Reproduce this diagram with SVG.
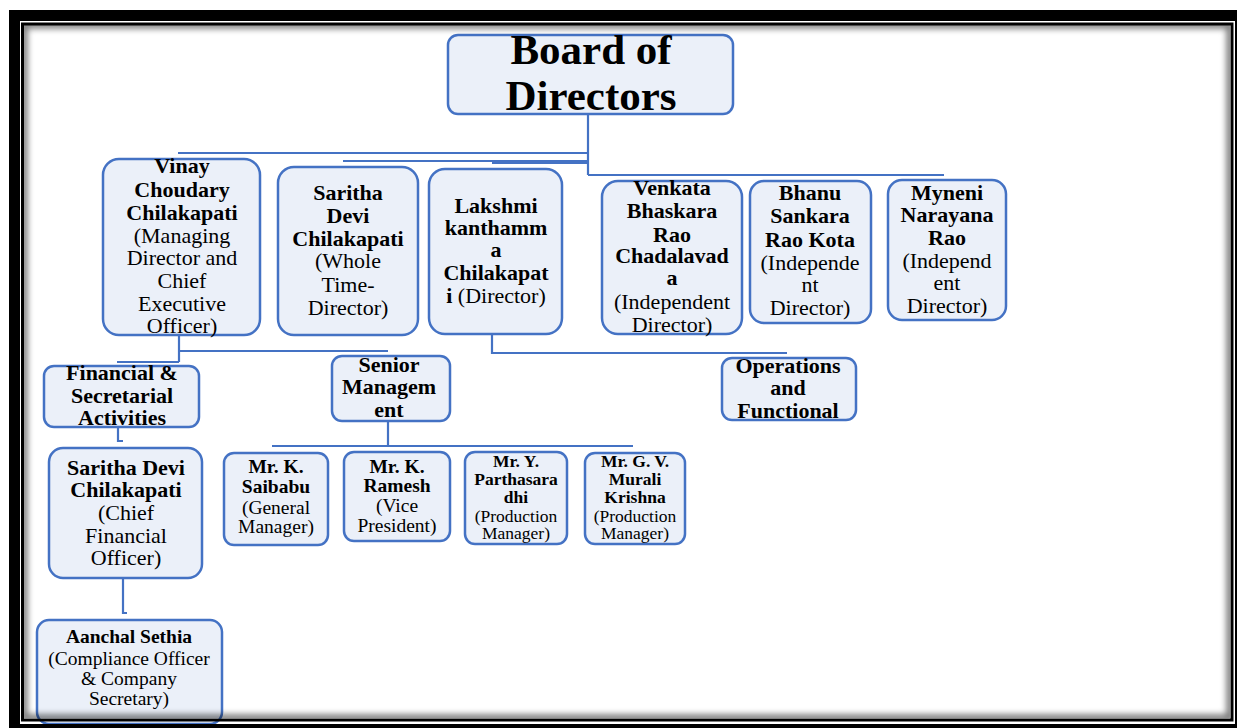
<svg xmlns="http://www.w3.org/2000/svg" width="1237" height="728" viewBox="0 0 1237 728">
<style>
.box{fill:#EBF0F9;stroke:#4472C4;stroke-width:2.5}
.t{font-family:"Liberation Serif","Times New Roman",serif;fill:#000;text-anchor:middle}
.b{font-weight:bold}
.f22{font-size:22px}
.f19{font-size:19.5px}
.f17{font-size:17.5px}
.conn{fill:none;stroke:#4472C4;stroke-width:2.2}
</style>
<defs>
<clipPath id="inner"><rect x="24" y="25" width="1206" height="693"/></clipPath>
<filter id="blur" x="-5%" y="-5%" width="110%" height="110%"><feGaussianBlur stdDeviation="3"/></filter>
</defs>
<rect x="0" y="0" width="1237" height="728" fill="#fff"/>

<g id="connectors">
<path class="conn" d="M588,114 V175 M178,153 H588 M343,161 H588 M492,163 H588 M588,175 H944"/>
<path class="conn" d="M179,335 V362 M179,351 H388 M117,362 H179"/>
<path class="conn" d="M492,334 V353 H787"/>
<path class="conn" d="M388,421 V446 M272,446 H633"/>
<path class="conn" d="M118,427 V441 H123"/>
<path class="conn" d="M123,578 V613 H127"/>
</g>

<g id="board">
<rect class="box" x="448" y="35" width="285" height="79" rx="10"/>
<text class="t b" font-size="43"><tspan x="591" y="64">Board of</tspan><tspan x="591" y="110">Directors</tspan></text>
</g>

<g id="vinay">
<rect class="box" x="103" y="159" width="157" height="176" rx="16"/>
<text class="t f22"><tspan class="b" x="182" y="173">Vinay</tspan><tspan class="b" x="182" y="197">Choudary</tspan><tspan class="b" x="182" y="220">Chilakapati</tspan><tspan x="182" y="243">(Managing</tspan><tspan x="182" y="265">Director and</tspan><tspan x="182" y="288">Chief</tspan><tspan x="182" y="311">Executive</tspan><tspan x="182" y="333">Officer)</tspan></text>
</g>

<g id="saritha-wtd">
<rect class="box" x="278" y="167" width="140" height="168" rx="16"/>
<text class="t f22"><tspan class="b" x="348" y="200">Saritha</tspan><tspan class="b" x="348" y="223">Devi</tspan><tspan class="b" x="348" y="246">Chilakapati</tspan><tspan x="348" y="268">(Whole</tspan><tspan x="348" y="292">Time-</tspan><tspan x="348" y="315">Director)</tspan></text>
</g>

<g id="lakshmi">
<rect class="box" x="429" y="169" width="133" height="165" rx="16"/>
<text class="t f22"><tspan class="b" x="496" y="213">Lakshmi</tspan><tspan class="b" x="496" y="235">kanthamm</tspan><tspan class="b" x="496" y="257">a</tspan><tspan class="b" x="496" y="280">Chilakapat</tspan><tspan x="496" y="303"><tspan class="b">i</tspan> (Director)</tspan></text>
</g>

<g id="venkata">
<rect class="box" x="602" y="181" width="140" height="153" rx="16"/>
<text class="t f22"><tspan class="b" x="672" y="195">Venkata</tspan><tspan class="b" x="672" y="218">Bhaskara</tspan><tspan class="b" x="672" y="242">Rao</tspan><tspan class="b" x="672" y="263">Chadalavad</tspan><tspan class="b" x="672" y="285">a</tspan><tspan x="672" y="309">(Independent</tspan><tspan x="672" y="332">Director)</tspan></text>
</g>

<g id="bhanu">
<rect class="box" x="750" y="181" width="121" height="142" rx="14"/>
<text class="t f22"><tspan class="b" x="810" y="200">Bhanu</tspan><tspan class="b" x="810" y="223">Sankara</tspan><tspan class="b" x="810" y="247">Rao Kota</tspan><tspan x="810" y="270">(Independe</tspan><tspan x="810" y="292">nt</tspan><tspan x="810" y="315">Director)</tspan></text>
</g>

<g id="myneni">
<rect class="box" x="888" y="180" width="118" height="140" rx="14"/>
<text class="t f22"><tspan class="b" x="947" y="200">Myneni</tspan><tspan class="b" x="947" y="222">Narayana</tspan><tspan class="b" x="947" y="245">Rao</tspan><tspan x="947" y="268">(Independ</tspan><tspan x="947" y="290">ent</tspan><tspan x="947" y="313">Director)</tspan></text>
</g>

<g id="financial">
<rect class="box" x="44" y="366" width="155" height="61" rx="10"/>
<text class="t b f22"><tspan x="122" y="380">Financial &amp;</tspan><tspan x="122" y="403">Secretarial</tspan><tspan x="122" y="425">Activities</tspan></text>
</g>

<g id="senior">
<rect class="box" x="332" y="356" width="118" height="65" rx="10"/>
<text class="t b f22"><tspan x="389" y="372">Senior</tspan><tspan x="389" y="394">Managem</tspan><tspan x="389" y="417">ent</tspan></text>
</g>

<g id="operations">
<rect class="box" x="722" y="358" width="134" height="62" rx="10"/>
<text class="t b f22"><tspan x="788" y="373">Operations</tspan><tspan x="788" y="395">and</tspan><tspan x="788" y="418">Functional</tspan></text>
</g>

<g id="saibabu">
<rect class="box" x="224" y="453" width="104" height="92" rx="10"/>
<text class="t f19"><tspan class="b" x="276" y="473">Mr. K.</tspan><tspan class="b" x="276" y="493">Saibabu</tspan><tspan x="276" y="514">(General</tspan><tspan x="276" y="533">Manager)</tspan></text>
</g>

<g id="ramesh">
<rect class="box" x="344" y="452" width="106" height="89" rx="10"/>
<text class="t f19"><tspan class="b" x="397" y="473">Mr. K.</tspan><tspan class="b" x="397" y="492">Ramesh</tspan><tspan x="397" y="512">(Vice</tspan><tspan x="397" y="532">President)</tspan></text>
</g>

<g id="parthasaradhi">
<rect class="box" x="465" y="452" width="102" height="92" rx="10"/>
<text class="t f17"><tspan class="b" x="516" y="467">Mr. Y.</tspan><tspan class="b" x="516" y="485">Parthasara</tspan><tspan class="b" x="516" y="503">dhi</tspan><tspan x="516" y="522">(Production</tspan><tspan x="516" y="539">Manager)</tspan></text>
</g>

<g id="murali">
<rect class="box" x="585" y="453" width="100" height="91" rx="10"/>
<text class="t f17"><tspan class="b" x="635" y="467">Mr. G. V.</tspan><tspan class="b" x="635" y="485">Murali</tspan><tspan class="b" x="635" y="503">Krishna</tspan><tspan x="635" y="522">(Production</tspan><tspan x="635" y="539">Manager)</tspan></text>
</g>

<g id="saritha-cfo">
<rect class="box" x="49" y="448" width="153" height="130" rx="14"/>
<text class="t f22"><tspan class="b" x="126" y="475">Saritha Devi</tspan><tspan class="b" x="126" y="497">Chilakapati</tspan><tspan x="126" y="520">(Chief</tspan><tspan x="126" y="543">Financial</tspan><tspan x="126" y="565">Officer)</tspan></text>
</g>

<g id="aanchal">
<rect class="box" x="37" y="620" width="185" height="104" rx="12"/>
<text class="t f19"><tspan class="b" x="129" y="643">Aanchal Sethia</tspan><tspan x="129" y="665">(Compliance Officer</tspan><tspan x="129" y="685">&amp; Company</tspan><tspan x="129" y="705">Secretary)</tspan></text>
</g>

<g id="frame">
<g clip-path="url(#inner)">
<rect x="24" y="25" width="1206" height="693" fill="none" stroke="#000" stroke-width="7" opacity="0.55" filter="url(#blur)"/>
</g>
<rect x="22.5" y="24" width="1209.5" height="696" fill="none" stroke="#000" stroke-width="3"/>
<rect x="14.5" y="15.5" width="1226" height="714" fill="none" stroke="#000" stroke-width="11"/>
</g>
</svg>
